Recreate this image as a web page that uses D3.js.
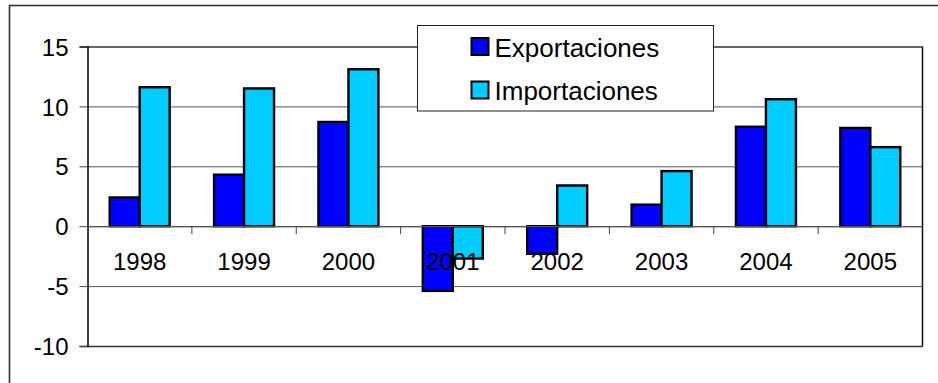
<!DOCTYPE html>
<html>
<head>
	<meta charset="utf-8">
	<title>Exportaciones e Importaciones</title>
	<script src="https://d3js.org/d3.v7.min.js"></script>
	<style>
		body { margin: 0; background: #fff; }
		text { font-family: "Liberation Sans", Arial, sans-serif; fill: #000; }
	</style>
</head>
<body>
	<div id="chart"></div>
	<script type="text/javascript">

		// data
		var years = ["1998", "1999", "2000", "2001", "2002", "2003", "2004", "2005"];
		var seriesNames = ["Exportaciones", "Importaciones"];
		var exportaciones = [2.4, 4.3, 8.7, -5.4, -2.3, 1.8, 8.3, 8.2];
		var importaciones = [11.6, 11.5, 13.1, -2.7, 3.4, 4.6, 10.6, 6.6];
		var yTicks = [-10, -5, 0, 5, 10, 15];
		var colors = ["#0000ff", "#00ccff"];

		var width = 938, height = 383;
		var plot = {left: 87.5, right: 922.5, top: 46.5, bottom: 346};

		var svg = d3.select("#chart")
			.append("svg")
			.attr("width", width)
			.attr("height", height);

		// outer chart frame (runs off the right/bottom edges)
		svg.append("rect")
			.attr("x", 9.5)
			.attr("y", 5.5)
			.attr("width", 960)
			.attr("height", 420)
			.style("fill", "none")
			.style("stroke", "#333")
			.style("stroke-width", 1.6);

		var xScale = d3.scaleBand().domain(years).range([plot.left, plot.right]);
		var xInner = d3.scaleBand().domain(seriesNames).range([0, xScale.bandwidth()]).paddingOuter(0.74);
		var yScale = d3.scaleLinear().domain([-10, 15]).range([plot.bottom, plot.top]);

		// gridlines
		svg.append("g")
			.selectAll("line")
			.data(yTicks)
			.enter().append("line")
				.attr("x1", plot.left)
				.attr("x2", plot.right)
				.attr("y1", function(d) { return yScale(d) + 0.5; })
				.attr("y2", function(d) { return yScale(d) + 0.5; })
				.style("stroke", function(d) { return (d == 15 || d == -10) ? "#333" : "#555"; })
				.style("stroke-width", function(d) { return (d == 15 || d == -10) ? 1.5 : 1; });

		// right border of plot area
		svg.append("line")
			.attr("x1", plot.right).attr("x2", plot.right)
			.attr("y1", plot.top).attr("y2", plot.bottom + 0.5)
			.style("stroke", "#111")
			.style("stroke-width", 1.5);

		// y axis (hyphen minus like the original)
		var yAxis = svg.append("g")
			.attr("transform", "translate(" + plot.left + ",0)")
			.call(d3.axisLeft(yScale).tickValues(yTicks).tickSize(8).tickPadding(11)
				.tickFormat(function(d) { return String(d); }));
		yAxis.select(".domain").style("stroke", "#000").style("stroke-width", 1.5);
		yAxis.selectAll(".tick line").style("stroke", "#444");
		yAxis.selectAll("text")
			.style("font-size", "24px")
			.attr("dy", "0.36em");

		// bars
		var data = years.map(function(y, i) {
			return {year: y, values: [exportaciones[i], importaciones[i]]};
		});

		var groups = svg.append("g")
			.selectAll("g")
			.data(data)
			.enter().append("g")
				.attr("transform", function(d) { return "translate(" + xScale(d.year) + ",0)"; });

		groups.selectAll("rect")
			.data(function(d) {
				return d.values.map(function(v, k) { return {name: seriesNames[k], value: v, k: k}; });
			})
			.enter().append("rect")
				.attr("x", function(d) { return xInner(d.name); })
				.attr("y", function(d) { return yScale(Math.max(0, d.value)); })
				.attr("width", xInner.bandwidth())
				.attr("height", function(d) { return Math.abs(yScale(d.value) - yScale(0)); })
				.style("fill", function(d) { return colors[d.k]; })
				.style("stroke", "#000")
				.style("stroke-width", 2.4);

		// category axis on zero line
		var xAxis = svg.append("g")
			.attr("transform", "translate(0," + yScale(0) + ")");
		xAxis.append("line")
			.attr("x1", plot.left).attr("x2", plot.right)
			.attr("y1", 0.5).attr("y2", 0.5)
			.style("stroke", "#555")
			.style("stroke-width", 1.2);
		xAxis.selectAll(".cat-tick")
			.data(years.slice(1))
			.enter().append("line")
				.attr("class", "cat-tick")
				.attr("x1", function(d) { return xScale(d); })
				.attr("x2", function(d) { return xScale(d); })
				.attr("y1", 0).attr("y2", 8)
				.style("stroke", "#444");
		xAxis.selectAll(".cat-label")
			.data(years)
			.enter().append("text")
				.attr("class", "cat-label")
				.attr("x", function(d) { return xScale(d) + xScale.bandwidth() / 2; })
				.attr("y", 44)
				.attr("text-anchor", "middle")
				.style("font-size", "24px")
				.text(function(d) { return d; });

		// legend
		var legend = svg.append("g").attr("transform", "translate(417.5,25.5)");
		legend.append("rect")
			.attr("width", 296)
			.attr("height", 85.5)
			.style("fill", "#fff")
			.style("stroke", "#222")
			.style("stroke-width", 1);
		var items = legend.selectAll(".item")
			.data(seriesNames)
			.enter().append("g")
				.attr("class", "item")
				.attr("transform", function(d, i) { return "translate(0," + (i * 43.5) + ")"; });
		items.append("rect")
			.attr("x", 54)
			.attr("y", 12.5)
			.attr("width", 17)
			.attr("height", 17)
			.style("fill", function(d, i) { return colors[i]; })
			.style("stroke", "#000")
			.style("stroke-width", 2);
		items.append("text")
			.attr("x", 77)
			.attr("y", 31)
			.style("font-size", "26px")
			.text(function(d) { return d; });

	</script>
</body>
</html>
